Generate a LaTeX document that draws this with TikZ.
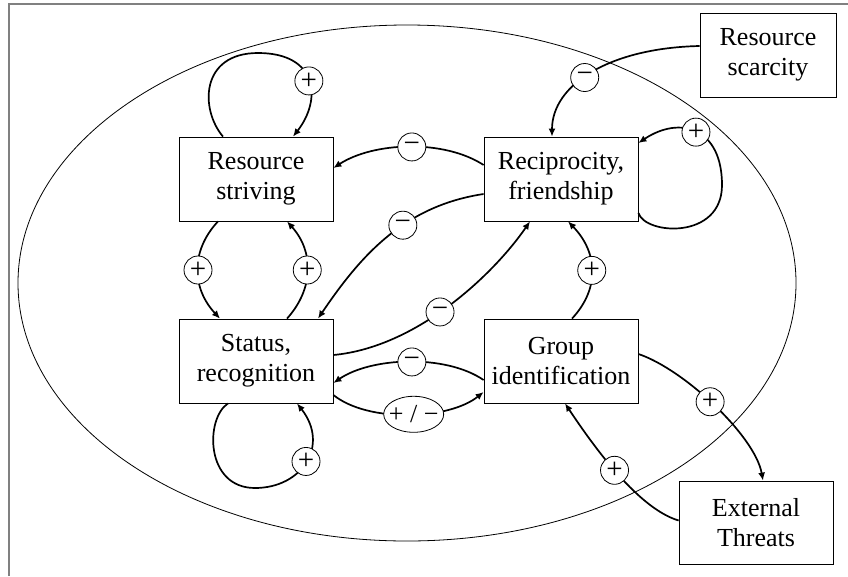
\documentclass[tikz,border=0pt]{standalone}
\usepackage{fontspec}
\setmainfont{Liberation Serif}
\usetikzlibrary{arrows.meta,calc,shapes.geometric}

\begin{document}
\begin{tikzpicture}[x=1pt,y=-1pt,
  box/.style={draw=black,line width=0.8pt,fill=white,minimum width=154pt,
    minimum height=84pt,align=center,inner sep=0pt,
    font=\fontsize{26}{30}\selectfont},
  link/.style={line width=1.7pt,-{Latex[length=8pt,width=7pt]}},
  sgn/.style={circle,draw=black,line width=0.8pt,fill=white,minimum size=28pt,
    inner sep=0pt,font=\fontsize{29}{29}\selectfont},
  mixed/.style={ellipse,draw=black,line width=0.8pt,fill=white,minimum width=60pt,
    minimum height=36pt,inner sep=0pt,font=\fontsize{26}{26}\selectfont}]

\useasboundingbox (0,0) rectangle (848,576);

% outer frame (left and top edges)
\draw[gray,line width=1.5pt] (9,576) -- (9,4) -- (848,4);

% system boundary
\draw[line width=0.8pt] (407,283) ellipse [x radius=389pt, y radius=258pt];

% factors
\node[box] (rs) at (256,179) {Resource\\striving};
\node[box] (rf) at (561,179) {Reciprocity,\\friendship};
\node[box] (sr) at (256,361) {Status,\\recognition};
\node[box] (gi) at (561,361) {Group\\identification};
\node[box,minimum width=136pt] (sc) at (768,55) {Resource\\scarcity};
\node[box,minimum height=83pt] (et) at (756,522.5) {External\\Threats};

% self-reinforcing loops
\draw[link] ($(rs.north)+(-33,0)$) .. controls +(-23,-27) and +(-58,0) .. (258,53)
  .. controls +(60,0) and +(29,-37) .. ($(rs.north)+(37,0)$) node[sgn,pos=.5] {+};
\draw[link] ($(sr.south)+(-28,0)$) .. controls +(-23,15) and +(-50,0) .. (255,488)
  .. controls +(47,0) and +(33,42) .. ($(sr.south)+(41,0)$) node[sgn,pos=.5] {+};
\draw[link] ($(rf.east)+(0,34)$) .. controls +(7,22) and +(0,55) .. (722,185)
  .. controls +(0,-57) and +(42,-28) .. ($(rf.east)+(0,-36)$) node[sgn,pos=.5] {+};

% links between factors
\draw[link] ($(rf.west)+(0,-14)$) .. controls +(-40,-26) and +(40,-26) ..
  ($(rs.east)+(0,-11)$) node[sgn,pos=.48] {−};
\draw[link] ($(rf.west)+(0,15)$) .. controls +(-80,12) and +(42,-62) ..
  ($(sr.north)+(62,0)$) node[sgn,pos=.4] {−};
\draw[link] ($(sr.east)+(0,-6)$) .. controls +(85,-8) and +(-35,51) ..
  ($(rf.south)+(-31,0)$) node[sgn,pos=.45] {−};
\draw[link] ($(sr.east)+(0,34)$) .. controls +(35,28) and +(-35,28) ..
  ($(gi.west)+(0,31)$) node[mixed,pos=.53] {\makebox[0pt]{+ / −}};
\draw[link] ($(gi.west)+(0,19)$) .. controls +(-38,-26) and +(38,-26) ..
  ($(sr.east)+(0,22)$) node[sgn,pos=.48] {−};
\draw[link] ($(rs.south)+(-38,0)$) .. controls +(-28,30) and +(-28,-30) ..
  ($(sr.north)+(-36,0)$) node[sgn,pos=.5] {+};
\draw[link] ($(sr.north)+(31,0)$) .. controls +(27,-30) and +(27,30) ..
  ($(rs.south)+(31,0)$) node[sgn,pos=.5] {+};
\draw[link] ($(gi.north)+(11,0)$) .. controls +(28,-30) and +(30,31) ..
  ($(rf.south)+(7,0)$) node[sgn,pos=.5] {+};

% external drivers
\draw[link] ($(sc.west)+(0,-9)$) .. controls +(-90,2) and +(0,-52) ..
  ($(rf.north)+(-9,0)$) node[sgn,pos=.55] {−};
\draw[link] ($(gi.east)+(0,-7)$) .. controls +(45,15) and +(-8,-45) ..
  ($(et.north)+(7,0)$) node[sgn,pos=.47] {+};
\draw[link] ($(et.west)+(0,-2)$) .. controls +(-40,-12) and +(30,45) ..
  ($(gi.south)+(4,0)$) node[sgn,pos=.53] {+};

\end{tikzpicture}
\end{document}
